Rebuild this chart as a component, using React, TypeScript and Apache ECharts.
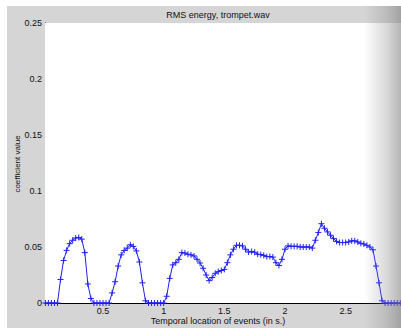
import React, { useEffect, useRef } from "react";
import * as echarts from "echarts";

const TITLE = "RMS energy, trompet.wav";
const X_LABEL = "Temporal location of events (in s.)";
const Y_LABEL = "coefficient value";

// frame grid (seconds)
const FRAME_START = 0.025;
const FRAME_HOP = 0.025;

// RMS values per frame
const rmsValues = [
  0, 0, 0, 0, 0, 0.021, 0.038, 0.047, 0.053, 0.056,
  0.058, 0.0585, 0.057, 0.045, 0.017, 0.004, 0, 0, 0, 0,
  0, 0, 0.009, 0.019, 0.033, 0.043, 0.047, 0.049, 0.052, 0.0505,
  0.0465, 0.0366, 0.018, 0.002, 0, 0, 0, 0, 0, 0,
  0.006, 0.022, 0.034, 0.036, 0.039, 0.045, 0.0446, 0.0435, 0.043, 0.042,
  0.039, 0.0357, 0.031, 0.025, 0.02, 0.0228, 0.0265, 0.028, 0.029, 0.03,
  0.036, 0.043, 0.048, 0.0515, 0.0515, 0.051, 0.048, 0.0455, 0.046, 0.0453,
  0.0435, 0.0432, 0.0425, 0.0414, 0.0415, 0.041, 0.036, 0.0335, 0.039, 0.048,
  0.051, 0.0506, 0.0506, 0.0506, 0.05, 0.05, 0.05, 0.05, 0.049, 0.056,
  0.063, 0.0708, 0.0667, 0.0635, 0.0605, 0.0575, 0.055, 0.054, 0.054, 0.054,
  0.0545, 0.0555, 0.0555, 0.0545, 0.0533, 0.0527, 0.0515, 0.05, 0.0475, 0.033,
  0.018, 0.002, 0, 0, 0, 0, 0, 0,
];

const xTicks = [0.5, 1, 1.5, 2, 2.5];
const X_MIN = 0.022;
const X_MAX = 2.956;
const Y_MIN = 0;
const Y_MAX = 0.25;
const Y_STEP = 0.05;

const FONT = "'Liberation Sans', Arial, sans-serif";

export default function App() {
  const ref = useRef<HTMLDivElement>(null);
  useEffect(() => {
    const el = ref.current!;
    const chart = echarts.init(el, undefined, { renderer: "svg" });
    const data = rmsValues.map((v, i) => [FRAME_START + i * FRAME_HOP, v]);
    chart.setOption({
      animation: false,
      backgroundColor: "#ffffff",
      grid: {
        left: 45,
        top: 23,
        right: 0,
        bottom: 25,
        show: true,
        backgroundColor: "#ffffff",
        borderWidth: 0,
        z: 1,
      },
      graphic: [
        {
          type: "rect",
          z: -10,
          silent: true,
          shape: { x: 7, y: 6, width: 394, height: 322 },
          style: { fill: "#d5d5d5" },
        },
        {
          type: "text",
          x: 218,
          y: 15,
          style: {
            text: TITLE,
            fill: "#111",
            font: `9px ${FONT}`,
            align: "center",
            verticalAlign: "middle",
          },
        },
        {
          type: "text",
          x: 218,
          y: 321,
          style: {
            text: X_LABEL,
            fill: "#111",
            font: `9px ${FONT}`,
            align: "center",
            verticalAlign: "middle",
          },
        },
        {
          type: "text",
          x: 17,
          y: 164,
          rotation: Math.PI / 2,
          style: {
            text: Y_LABEL,
            fill: "#111",
            font: `8px ${FONT}`,
            align: "center",
            verticalAlign: "middle",
          },
        },
        {
          type: "rect",
          z: 100,
          silent: true,
          shape: { x: 364, y: 6, width: 37, height: 322 },
          style: {
            fill: new echarts.graphic.LinearGradient(0, 0, 1, 0, [
              { offset: 0, color: "rgba(130,130,130,0)" },
              { offset: 0.6, color: "rgba(130,130,130,0.3)" },
              { offset: 1, color: "rgba(120,120,120,0.55)" },
            ]),
          },
        },
      ],
      xAxis: {
        type: "value",
        min: X_MIN,
        max: X_MAX,
        axisLine: { show: true, onZero: false, lineStyle: { color: "#000", width: 1 } },
        axisTick: {
          show: true,
          inside: true,
          length: 4,
          customValues: xTicks,
          lineStyle: { color: "#000" },
        },
        axisLabel: {
          customValues: xTicks,
          formatter: (v: number) => String(v),
          margin: 3,
          color: "#111",
          fontSize: 9,
          fontFamily: FONT,
        },
        splitLine: { show: false },
      },
      yAxis: {
        type: "value",
        min: Y_MIN,
        max: Y_MAX,
        interval: Y_STEP,
        axisLine: { show: true, lineStyle: { color: "#000", width: 1 } },
        axisTick: { show: true, inside: true, length: 4, lineStyle: { color: "#000" } },
        axisLabel: {
          margin: 3,
          color: "#111",
          fontSize: 9,
          fontFamily: FONT,
          formatter: (v: number) => String(Number(v.toFixed(2))),
        },
        splitLine: { show: false },
      },
      series: [
        {
          type: "line",
          data,
          z: 5,
          lineStyle: { color: "#2020ff", width: 1 },
          symbol: "path://M0,4L8,4M4,0L4,8",
          symbolSize: 6,
          showAllSymbol: true,
          itemStyle: { color: "#2020ff", borderColor: "#2020ff", borderWidth: 1 },
          clip: false,
        },
      ],
    });
    return () => chart.dispose();
  }, []);
  return (
    <div
      ref={ref}
      style={{ position: "fixed", left: 0, top: 0, width: 401, height: 328 }}
    />
  );
}
